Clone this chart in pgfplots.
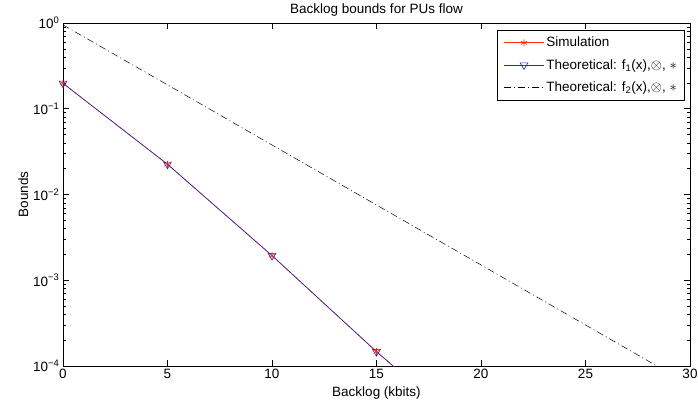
\documentclass[border=0pt]{standalone}
\usepackage{pgfplots}
\pgfplotsset{compat=1.18}
\usepackage{fontspec}
\setmainfont{Liberation Sans}
\definecolor{simred}{RGB}{255,40,20}
\definecolor{thblue}{RGB}{40,40,170}
\begin{document}
\begin{tikzpicture}
\useasboundingbox (-63bp,-44bp) rectangle (635bp,366bp);
\begin{axis}[
  scale only axis,
  width=627bp, height=343bp,
  at={(0,0)}, anchor=south west,
  xmin=0, xmax=30, ymin=1e-4, ymax=1,
  ymode=log,
  xtick={0,5,10,15,20,25,30},
  ytick={1e-4,1e-3,1e-2,1e-1,1},
  minor ytick={2e-4,3e-4,4e-4,5e-4,6e-4,7e-4,8e-4,9e-4,
               2e-3,3e-3,4e-3,5e-3,6e-3,7e-3,8e-3,9e-3,
               2e-2,3e-2,4e-2,5e-2,6e-2,7e-2,8e-2,9e-2,
               2e-1,3e-1,4e-1,5e-1,6e-1,7e-1,8e-1,9e-1},
  yticklabels={10\textsuperscript{−4},10\textsuperscript{−3},10\textsuperscript{−2},10\textsuperscript{−1},10\textsuperscript{0}},
  /pgf/number format/assume math mode=true,
  tick align=inside,
  major tick length=6bp,
  minor tick length=3bp,
  tick style={black, line width=0.5pt},
  axis line style={line width=0.6pt},
  font=\fontsize{13.5bp}{15bp}\selectfont,
  ticklabel style={font=\fontsize{13.5bp}{15bp}\selectfont},
  title={Backlog bounds for PUs flow},
  title style={font=\fontsize{13.5bp}{15bp}\selectfont, yshift=-3bp},
  xlabel={Backlog (kbits)},
  ylabel={Bounds},
  xlabel style={yshift=-1bp},
  ylabel style={yshift=-2bp},
  legend style={at={(0.992,0.98)}, anchor=north east, draw=black, line width=0.6pt,
    font=\fontsize{13.5bp}{15bp}\selectfont, row sep=7bp, inner xsep=6bp, inner ysep=5bp},
  legend cell align=left,
  legend image code/.code={\draw[#1, mark indices={2}] plot coordinates {(0bp,0bp)(20bp,0bp)(40bp,0bp)};},
]
\addplot[simred, line width=0.6pt, mark=asterisk, mark size=3.5bp, mark indices={1,2,3,4}, mark options={solid}]
  coordinates {(0,0.198) (5,0.0225) (10,0.00194) (15,0.000147) (16,0.0000906)};
\addlegendentry{Simulation}
\addplot[thblue, line width=0.6pt, mark=triangle, mark size=4.5bp, mark indices={1,2,3,4}, mark options={solid, rotate=180}]
  coordinates {(0,0.198) (5,0.0225) (10,0.00194) (15,0.000147) (16,0.0000906)};
\addlegendentry{Theoretical: f\textsubscript{1}(x),$\otimes$, $\ast$}
\addplot[black, line width=0.5pt, dash pattern=on 7bp off 3bp on 1bp off 3bp]
  coordinates {(0,0.95) (5,0.19) (10,0.0378) (15,0.00755) (20,0.00151) (25,0.000301) (30,0.00006)};
\addlegendentry{Theoretical: f\textsubscript{2}(x),$\otimes$, $\ast$}
\end{axis}
\end{tikzpicture}
\end{document}
